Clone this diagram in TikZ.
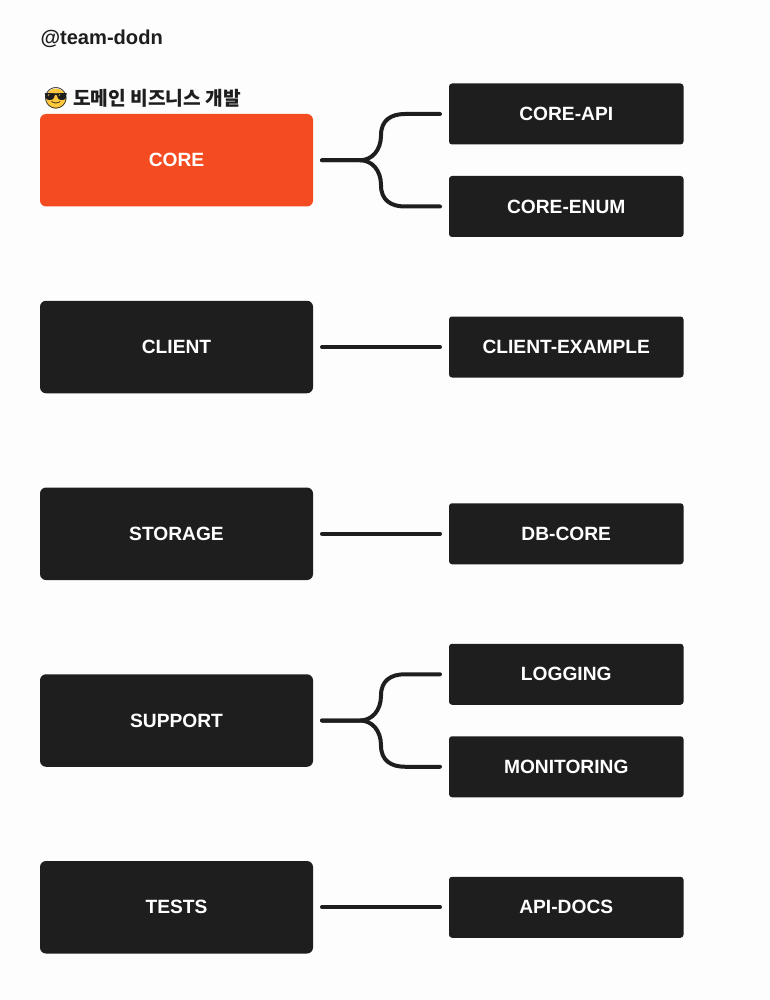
\documentclass[tikz,border=0pt]{standalone}
\usepackage{fontspec}
\setmainfont{Liberation Sans}
\newfontfamily\krfont{Noto Sans CJK KR}
\newfontfamily\emojifont{Noto Emoji}
\usetikzlibrary{positioning,calc}
\definecolor{boxdark}{HTML}{1E1E1E}
\definecolor{boxorange}{HTML}{F54B21}
\definecolor{pagebg}{HTML}{FDFDFD}
\definecolor{shades}{HTML}{FFC83D}

\begin{document}
\begin{tikzpicture}[
      x=1pt, y=1pt,
      font=\fontsize{19.2}{24}\selectfont\bfseries,
      every node/.style={align=center, inner sep=0pt, outer sep=0pt},
      main/.style={rounded corners=6pt, minimum width=273pt, minimum height=92.5pt,
                   fill=boxdark, text=white},
      sub/.style={rounded corners=3pt, minimum width=234.5pt, minimum height=61pt,
                  fill=boxdark, text=white},
      wire/.style={line width=4pt, line cap=round, boxdark, shorten <=9pt, shorten >=9pt},
    ]
    \fill[pagebg] (0,0) rectangle (770,-1000);
    \useasboundingbox (0,0) rectangle (770,-1000);
    % title lines
    \node[anchor=west, text=boxdark, font=\fontsize{20.1}{24}\selectfont\bfseries] (team) at (40.5,-39) {@team-dodn};
    \node[circle, fill=shades, minimum size=20pt] (smile) at (56,-98.5) {};
    \node[font=\fontsize{21}{24}\emojifont, text=boxdark] (glyph) at (smile) {😎};
    \node[anchor=west, right=7pt of smile, text=boxdark, font=\fontsize{19.2}{24}\krfont\bfseries] (domain) {도메인 비즈니스 개발};
    % left column
    \node[main, fill=boxorange, anchor=north west] (core) at (40,-114) {CORE};
    \node[main, below=94.25pt of core]    (client)  {CLIENT};
    \node[main, below=94.25pt of client]  (storage) {STORAGE};
    \node[main, below=94.25pt of storage] (support) {SUPPORT};
    \node[main, below=94.25pt of support] (tests)   {TESTS};
    % right column
    \node[sub, right=136pt of core, yshift=46.25pt]     (coreapi)  {CORE-API};
    \node[sub, right=136pt of core, yshift=-46.25pt]    (coreenum) {CORE-ENUM};
    \node[sub, right=136pt of client]                   (example)  {CLIENT-EXAMPLE};
    \node[sub, right=136pt of storage]                  (dbcore)   {DB-CORE};
    \node[sub, right=136pt of support, yshift=46.25pt]  (logging)  {LOGGING};
    \node[sub, right=136pt of support, yshift=-46.25pt] (monitor)  {MONITORING};
    \node[sub, right=136pt of tests]                    (apidocs)  {API-DOCS};
    % single connectors
    \draw[wire] (client) -- (example);
    \draw[wire] (storage) -- (dbcore);
    \draw[wire] (tests) -- (apidocs);
    % forks
    \foreach \from/\up/\down in {core/coreapi/coreenum, support/logging/monitor}{
      \draw[wire] (\from.east) -- ++(47,0)
        .. controls ++(12,0) and ++(0,15) .. ++(21,-25)
        .. controls ++(0,-15) and ++(-14,0) .. ($(\down.west)+(-44,0)$) -- (\down.west);
      \draw[wire] (\from.east) -- ++(47,0)
        .. controls ++(12,0) and ++(0,-15) .. ++(21,25)
        .. controls ++(0,15) and ++(-14,0) .. ($(\up.west)+(-44,0)$) -- (\up.west);
    }
  \end{tikzpicture}
\end{document}
